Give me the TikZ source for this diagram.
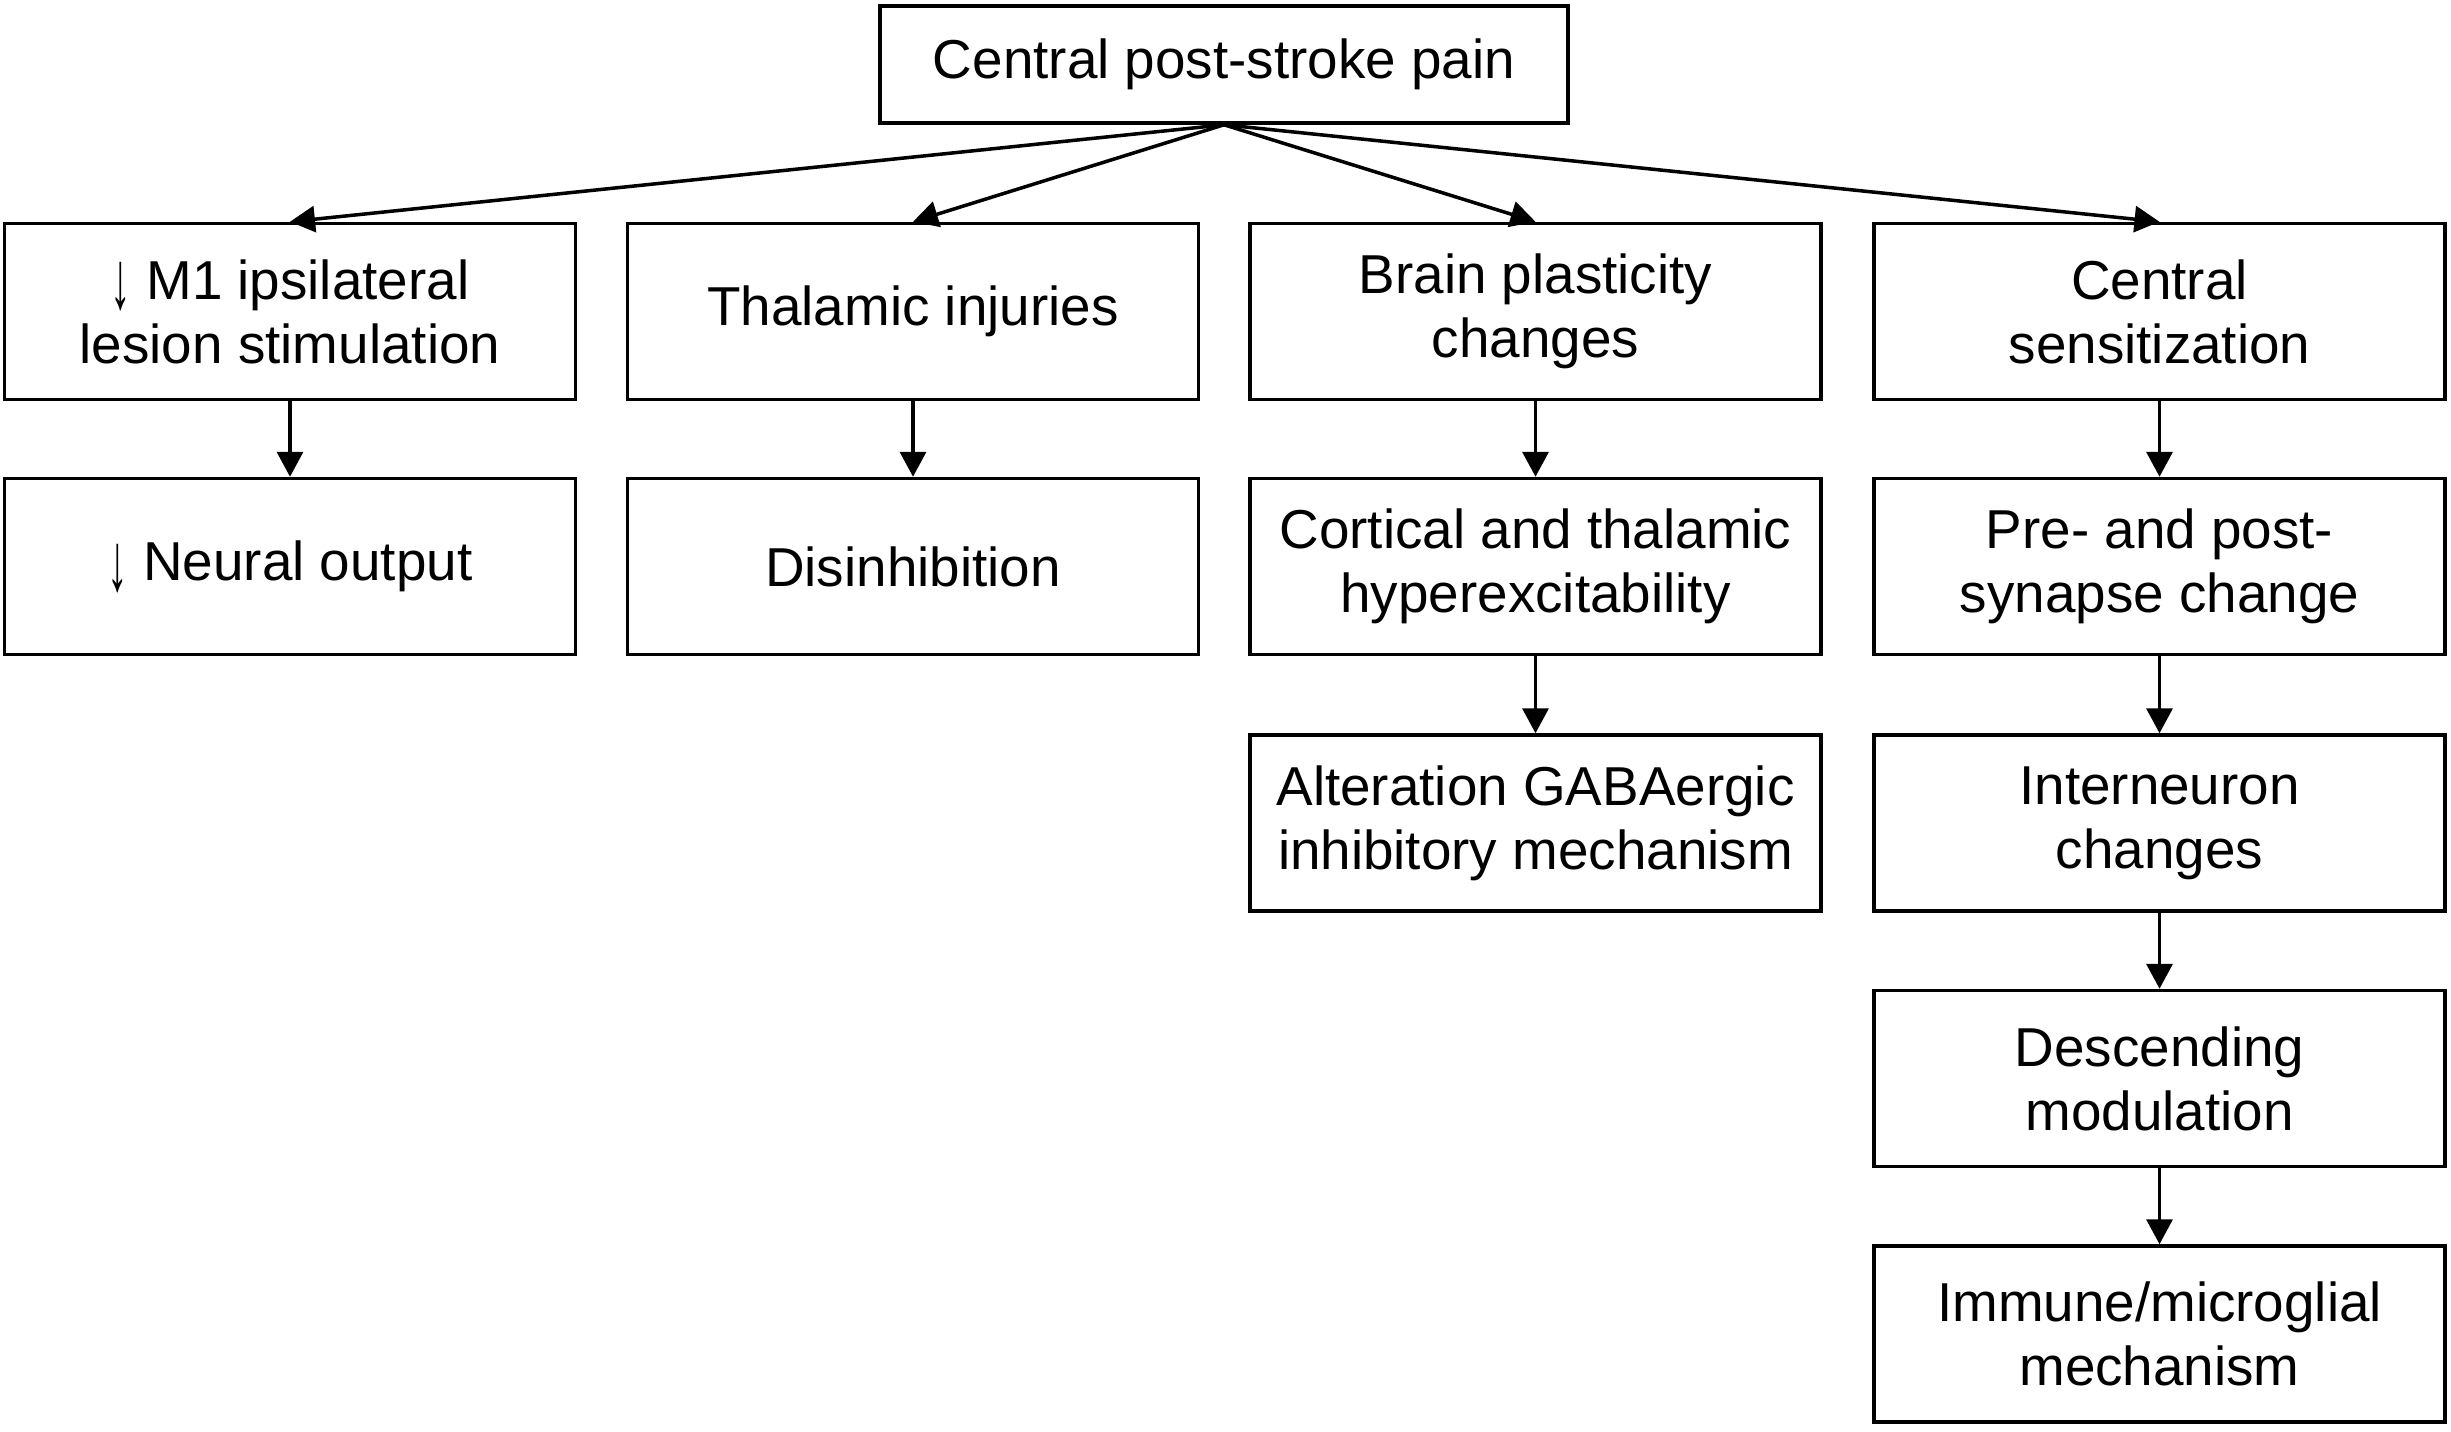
\documentclass[tikz,border=0pt]{standalone}
\usepackage{fontspec}
\setmainfont{Liberation Sans}
\usepackage{tikz}
\usetikzlibrary{arrows.meta}
\newcommand{\dnarr}{\raisebox{-0.18em}{\scalebox{0.75}[1.5]{↓}}}
\tikzset{bx/.style={draw, line width=1pt, minimum width=5.71cm, minimum height=1.76cm,
  inner sep=0pt, align=center, font=\fontsize{15.6}{18.2}\selectfont}}
\tikzset{>={Triangle[length=2.5mm,width=2.6mm]}, every edge/.style={draw, line width=1pt}}

\begin{document}
\begin{tikzpicture}
    \useasboundingbox (0,0) rectangle (24.51,-14.31);
    \node [bx, minimum width=6.88cm, minimum height=1.17cm] (cpsp) at (12.24,-0.645) {Central post-stroke pain};
    % first row
    \node [bx] (m1) at (2.90,-3.115) {\dnarr\ M1 ipsilateral\\lesion stimulation};
    \node [bx] (thal) at (9.13,-3.115) {Thalamic injuries};
    \node [bx] (plast) at (15.355,-3.115) {Brain plasticity\\changes};
    \node [bx] (sens) at (21.595,-3.115) {Central\\sensitization};
    \path (cpsp.south) edge [->] (m1.north)
      edge [->] (thal.north)
      edge [->] (plast.north)
      edge [->] (sens.north);
    % second row
    \node [bx] (neur) at (2.90,-5.665) {\dnarr\ Neural output}
      edge [<-] (m1);
    \node [bx] (disinh) at (9.13,-5.665) {Disinhibition}
      edge [<-] (thal);
    \node [bx] (hyper) at (15.355,-5.665) {Cortical and thalamic\\hyperexcitability}
      edge [<-] (plast);
    \node [bx] (syn) at (21.595,-5.665) {Pre- and post-\\synapse change}
      edge [<-] (sens);
    % lower rows
    \node [bx] (gaba) at (15.355,-8.23) {Alteration GABAergic\\inhibitory mechanism}
      edge [<-] (hyper);
    \node [bx] (inter) at (21.595,-8.23) {Interneuron\\changes}
      edge [<-] (syn);
    \node [bx] (desc) at (21.595,-10.785) {Descending\\modulation}
      edge [<-] (inter);
    \node [bx] (imm) at (21.595,-13.34) {Immune/microglial\\mechanism}
      edge [<-] (desc);
\end{tikzpicture}
\end{document}
